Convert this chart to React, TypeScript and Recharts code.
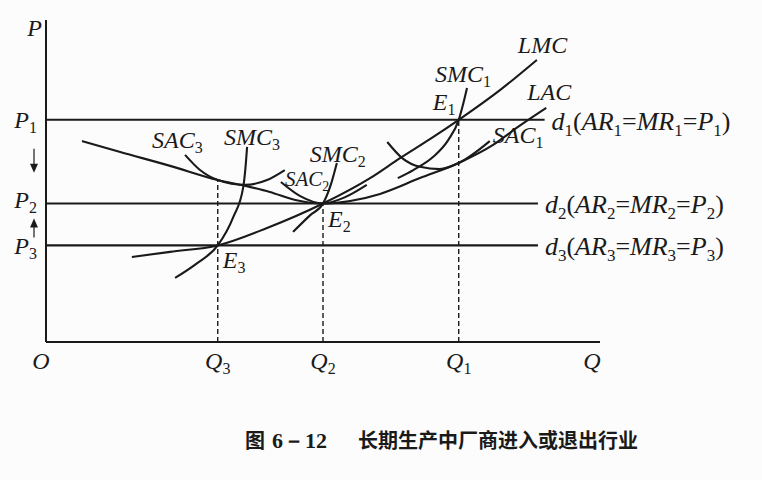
import React from 'react';
import { LineChart, Line, XAxis, YAxis, ReferenceDot } from 'recharts';

// price levels and quantities
const P1 = 6.9;
const P2 = 4.3;
const P3 = 3.0;
const Q3 = 3.1;
const Q2 = 5.0;
const Q1 = 7.45;

const qTicks = [0, Q3, Q2, Q1, 10];
const qTickLabels = [
  [{ t: 'O' }],
  [{ t: 'Q' }, { t: '3', sub: true }],
  [{ t: 'Q' }, { t: '2', sub: true }],
  [{ t: 'Q' }, { t: '1', sub: true }],
  [{ t: 'Q' }],
];
const pTicks = [P3, P2, P1, 10];
const pTickLabels = [
  [{ t: 'P' }, { t: '3', sub: true }],
  [{ t: 'P' }, { t: '2', sub: true }],
  [{ t: 'P' }, { t: '1', sub: true }],
  [{ t: 'P' }],
];

// curves, as [Q, P] pairs
const lmc = [[1.55, 2.64], [2.24, 2.8], [3.1, 3.0], [3.99, 3.54], [5.0, 4.3], [5.85, 5.09], [6.39, 5.71], [6.93, 6.3], [7.45, 6.9], [8.2, 7.83], [8.86, 8.76]];
const lac = [[0.65, 6.24], [1.34, 5.9], [2.24, 5.47], [3.1, 5.03], [3.59, 4.85], [4.04, 4.66], [4.5, 4.41], [5.0, 4.3], [5.49, 4.38], [6.03, 4.6], [6.75, 5.09], [7.45, 5.56], [8.07, 6.12], [8.52, 6.68], [9.03, 7.27]];
const sac3 = [[2.51, 5.81], [2.78, 5.34], [3.1, 5.03], [3.59, 4.88], [3.99, 5.03], [4.31, 5.34]];
const smc3 = [[2.33, 1.99], [2.73, 2.45], [3.1, 3.0], [3.38, 3.88], [3.56, 4.81], [3.6, 5.4], [3.63, 6.06]];
const sac2 = [[4.24, 4.97], [4.59, 4.53], [5.0, 4.3], [5.4, 4.5], [5.79, 4.88]];
const smc2 = [[4.46, 3.42], [4.77, 3.94], [5.0, 4.3], [5.14, 4.88], [5.25, 5.56]];
const sac1 = [[6.16, 6.21], [6.43, 5.71], [6.75, 5.44], [7.11, 5.37], [7.45, 5.56], [8.01, 6.24]];
const smc1 = [[6.35, 5.09], [6.63, 5.34], [6.99, 5.75], [7.26, 6.27], [7.45, 6.9], [7.53, 7.39], [7.6, 7.89]];

// demand lines d1..d3 and dashed drops
const d1 = [[0, P1], [9.0, P1]];
const d2 = [[0, P2], [8.88, P2]];
const d3 = [[0, P3], [8.88, P3]];
const drop3 = [[Q3, 0], [Q3, 5.03]];
const drop2 = [[Q2, 0], [Q2, P2]];
const drop1 = [[Q1, 0], [Q1, P1]];

const pts = (a: number[][]) => a.map(([x, y]) => ({ x, y }));

const INK = '#1a1a1a';
const SERIF = "'Liberation Serif', 'DejaVu Serif', serif";

type Part = { t: string; sub?: boolean; up?: boolean };

function Parts({ parts, size, subSize }: { parts: Part[]; size: number; subSize: number }) {
  let shift = 0;
  return (
    <>
      {parts.map((p, i) => {
        const target = p.sub ? Math.round(size * 0.22) : 0;
        const dy = target - shift;
        shift = target;
        return (
          <tspan
            key={i}
            dy={dy}
            fontSize={p.sub ? subSize : size}
            fontStyle={p.sub || p.up ? 'normal' : 'italic'}
          >
            {p.t}
          </tspan>
        );
      })}
    </>
  );
}

function mathLabel(parts: Part[], dx: number, dy: number, size = 24, anchor: 'start' | 'middle' | 'end' = 'start') {
  return (props: any) => {
    const vb = props.viewBox;
    if (!vb) return null;
    const cx = vb.x + vb.width / 2;
    const cy = vb.y + vb.height / 2;
    return (
      <text x={cx + dx} y={cy + dy} fill={INK} fontFamily={SERIF} textAnchor={anchor}>
        <Parts parts={parts} size={size} subSize={Math.round(size * 0.66)} />
      </text>
    );
  };
}

function arrow(dir: 'up' | 'down', dx: number) {
  return (props: any) => {
    const vb = props.viewBox;
    if (!vb) return null;
    const x = vb.x + vb.width / 2 + dx;
    const y = vb.y + vb.height / 2;
    if (dir === 'down') {
      return (
        <g>
          <line x1={x} y1={y - 13} x2={x} y2={y + 3} stroke={INK} strokeWidth={1.2} />
          <polygon points={`${x - 4},${y + 2} ${x + 4},${y + 2} ${x},${y + 11}`} fill={INK} />
        </g>
      );
    }
    return (
      <g>
        <line x1={x} y1={y + 13} x2={x} y2={y + 2} stroke={INK} strokeWidth={1.2} />
        <polygon points={`${x - 4},${y + 3} ${x + 4},${y + 3} ${x},${y - 6}`} fill={INK} />
      </g>
    );
  };
}

const XTick = (props: any) => {
  const { x, y, index } = props;
  const parts = qTickLabels[index] || [];
  const shift = index === 0 ? -5 : index === qTicks.length - 1 ? -8 : 0;
  return (
    <text x={x + shift} y={y + 27} fill={INK} fontFamily={SERIF} textAnchor="middle">
      <Parts parts={parts} size={24} subSize={16} />
    </text>
  );
};

const YTick = (props: any) => {
  const { x, y, index } = props;
  const parts = pTickLabels[index] || [];
  const offs = [9, 4, 8, 16];
  return (
    <text x={x - (index === 3 ? 4 : 9)} y={y + offs[index]} fill={INK} fontFamily={SERIF} textAnchor="end">
      <Parts parts={parts} size={24} subSize={16} />
    </text>
  );
};

const curve = (key: string, d: number[][], type: any = 'monotone', dash?: string, w = 2.1) => (
  <Line
    key={key}
    data={pts(d)}
    dataKey="y"
    type={type}
    stroke={INK}
    strokeWidth={w}
    strokeDasharray={dash}
    dot={false}
    activeDot={false}
    isAnimationActive={false}
  />
);

const dot = (key: string, x: number, y: number, label: any) => (
  <ReferenceDot key={key} x={x} y={y} r={1} fill="none" stroke="none" label={label} ifOverflow="visible" />
);

const dLabel = (n: string, dy: number) =>
  mathLabel(
    [
      { t: 'd' }, { t: n, sub: true }, { t: '(', up: true },
      { t: 'AR' }, { t: n, sub: true }, { t: '=', up: true },
      { t: 'MR' }, { t: n, sub: true }, { t: '=', up: true },
      { t: 'P' }, { t: n, sub: true }, { t: ')', up: true },
    ],
    7,
    dy,
    26,
  );

export default function App() {
  return (
    <div style={{ position: 'absolute', left: 0, top: 0, width: 762, height: 480, background: '#fcfcfc' }}>
      <LineChart width={762} height={480} margin={{ top: 20, right: 162, bottom: 98, left: 0 }}>
        <XAxis
          type="number"
          dataKey="x"
          domain={[0, 10]}
          ticks={qTicks}
          interval={0}
          tick={XTick}
          tickLine={false}
          tickSize={0}
          tickMargin={0}
          height={40}
          axisLine={{ stroke: INK, strokeWidth: 2 }}
          allowDataOverflow
        />
        <YAxis
          type="number"
          domain={[0, 10]}
          ticks={pTicks}
          interval={0}
          tick={YTick}
          tickLine={false}
          tickSize={0}
          tickMargin={0}
          width={46}
          axisLine={{ stroke: INK, strokeWidth: 2 }}
          allowDataOverflow
        />
        {curve('d1', d1, 'linear')}
        {curve('d2', d2, 'linear')}
        {curve('d3', d3, 'linear')}
        {curve('drop3', drop3, 'linear', '5 3', 1.4)}
        {curve('drop2', drop2, 'linear', '5 3', 1.4)}
        {curve('drop1', drop1, 'linear', '5 3', 1.4)}
        {curve('lac', lac)}
        {curve('lmc', lmc)}
        {curve('sac3', sac3)}
        {curve('smc3', smc3)}
        {curve('sac2', sac2)}
        {curve('smc2', smc2)}
        {curve('sac1', sac1)}
        {curve('smc1', smc1)}

        {dot('lLMC', 8.86, 8.76, mathLabel([{ t: 'LMC' }], -19, -7))}
        {dot('lSMC1', 7.6, 7.89, mathLabel([{ t: 'SMC' }, { t: '1', sub: true }], -32, -6))}
        {dot('lE1', Q1, P1, mathLabel([{ t: 'E' }, { t: '1', sub: true }], -26, -10))}
        {dot('lLAC', 9.03, 7.27, mathLabel([{ t: 'LAC' }], -19, -8))}
        {dot('lSAC1', 8.01, 6.24, mathLabel([{ t: 'SAC' }, { t: '1', sub: true }], 3, 2))}
        {dot('lSAC3', 2.51, 5.81, mathLabel([{ t: 'SAC' }, { t: '3', sub: true }], -33, -7))}
        {dot('lSMC3', 3.63, 6.06, mathLabel([{ t: 'SMC' }, { t: '3', sub: true }], -23, -2))}
        {dot('lSMC2', 5.25, 5.56, mathLabel([{ t: 'SMC' }, { t: '2', sub: true }], -27, -1))}
        {dot('lSAC2', 4.24, 4.97, mathLabel([{ t: 'SAC' }, { t: '2', sub: true }], 4, 4, 21))}
        {dot('lE2', Q2, P2, mathLabel([{ t: 'E' }, { t: '2', sub: true }], 5, 23))}
        {dot('lE3', Q3, P3, mathLabel([{ t: 'E' }, { t: '3', sub: true }], 5, 23))}
        {dot('ld1', 9.0, P1, dLabel('1', 10))}
        {dot('ld2', 8.88, P2, dLabel('2', 9))}
        {dot('ld3', 8.88, P3, dLabel('3', 10))}
        {dot('aDown', 0, (P1 + P2) / 2, arrow('down', -12))}
        {dot('aUp', 0, (P2 + P3) / 2, arrow('up', -12))}
      </LineChart>
      <div
        style={{
          position: 'absolute',
          left: 245,
          top: 426,
          fontSize: 20,
          fontWeight: 700,
          color: INK,
          whiteSpace: 'nowrap',
          fontFamily: "'Noto Sans CJK SC', sans-serif",
          lineHeight: '28px',
        }}
      >
        <span>图</span>
        <span style={{ fontFamily: SERIF, fontSize: 22, marginLeft: 7 }}>6－12</span>
        <span style={{ position: 'absolute', left: 113, top: 0 }}>长期生产中厂商进入或退出行业</span>
      </div>
    </div>
  );
}
